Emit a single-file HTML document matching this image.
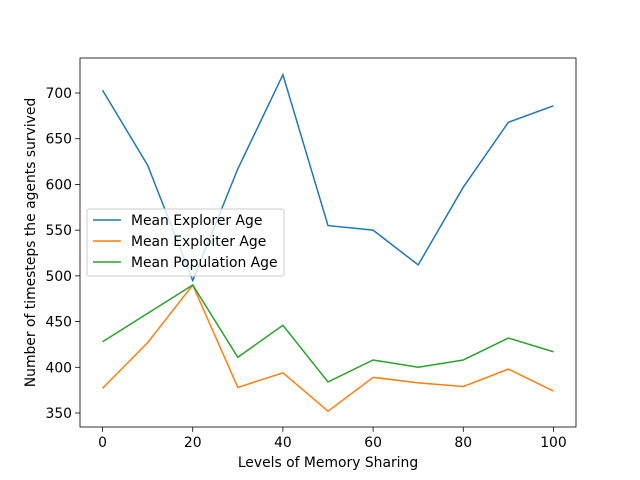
<!DOCTYPE html>
<html><head><meta charset="utf-8"><style>body{margin:0;background:#fff}svg{display:block;font-family:"DejaVu Sans","Liberation Sans",sans-serif}</style></head>
<body>
<svg id="chart" width="640" height="480"></svg>
<script>
const categories=[0,10,20,30,40,50,60,70,80,90,100];
const explorerAge=[703,621,495,617,720,555,550,512,597,668,686];
const exploiterAge=[377,427,490,378,394,352,389,383,379,398,374];
const populationAge=[428,459,490,411,446,384,408,400,408,432,417];
const xTicks=[0,20,40,60,80,100];
const yTicks=[350,400,450,500,550,600,650,700];
const seriesNames=["Mean Explorer Age","Mean Exploiter Age","Mean Population Age"];
const colors=["#1f77b4","#ff7f0e","#2ca02c"];
const L=80,R=576,T=58,B=427;
const xMin=-5,xMax=105,yMin=334.7,yMax=738.3;
const sx=v=>L+(v-xMin)/(xMax-xMin)*(R-L);
const sy=v=>B-(v-yMin)/(yMax-yMin)*(B-T);
const svg=document.getElementById('chart');
const NS='http://www.w3.org/2000/svg';
const FS=13.9;
function mk(tag,attrs,parent){const e=document.createElementNS(NS,tag);for(const k in attrs)e.setAttribute(k,attrs[k]);(parent||svg).appendChild(e);return e;}
const data=[explorerAge,exploiterAge,populationAge];
data.forEach((s,i)=>{
 const p=mk('polyline',{points:s.map((v,j)=>sx(categories[j])+','+sy(v)).join(' '),fill:'none',stroke:colors[i],'stroke-width':1.5});
 
 
});
const frame=mk('rect',{x:L,y:T,width:R-L,height:B-T,fill:'none',stroke:'#000','stroke-width':0.8});


xTicks.forEach(v=>{
 const x=sx(v);
 mk('line',{x1:x,x2:x,y1:B,y2:B+4.9,stroke:'#000','stroke-width':0.8});
 const t=mk('text',{x:x,y:B+20,'text-anchor':'middle','font-size':FS});t.textContent=v;
 
 
});
yTicks.forEach(v=>{
 const y=sy(v);
 mk('line',{x1:L-4.9,x2:L,y1:y,y2:y,stroke:'#000','stroke-width':0.8});
 const t=mk('text',{x:L-8,y:y+5,'text-anchor':'end','font-size':FS});t.textContent=v;
 
 
});
const xt=mk('text',{x:(L+R)/2,y:467,'text-anchor':'middle','font-size':FS});xt.textContent='Levels of Memory Sharing';


const yt=mk('text',{x:0,y:0,'text-anchor':'middle','font-size':FS,transform:'translate(35,'+((T+B)/2)+') rotate(-90)'});yt.textContent='Number of timesteps the agents survived';


const lg=mk('g',{});


mk('rect',{x:87,y:209,width:197,height:67,fill:'#fff','fill-opacity':0.8,stroke:'#ccc',rx:2},lg);
seriesNames.forEach((n,i)=>{
 const y=220+i*21;
 mk('line',{x1:93,x2:121,y1:y,y2:y,stroke:colors[i],'stroke-width':1.5},lg);
 const t=mk('text',{x:131,y:y+5,'font-size':FS},lg);t.textContent=n;
 
 
});
</script>
</body></html>
